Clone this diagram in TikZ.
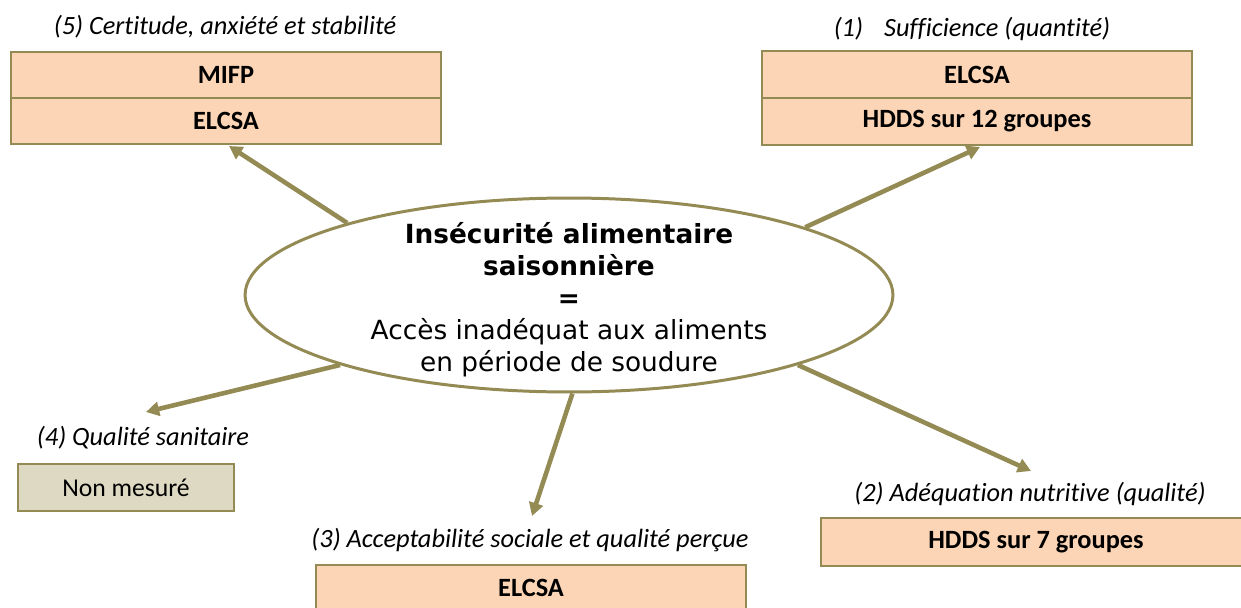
\documentclass[tikz,border=0pt]{standalone}
\usepackage{fontspec}
\setmainfont{Carlito}[Ligatures={NoCommon}]
\newfontfamily\verd{DejaVu Sans}
\usetikzlibrary{arrows.meta,shapes.geometric}
\definecolor{olivebd}{HTML}{948A54}
\definecolor{peach}{HTML}{FBD5B5}
\definecolor{khaki}{HTML}{DDD9C3}
\begin{document}
\begin{tikzpicture}[x=0.02cm,y=-0.02cm,
  cell/.style={draw=olivebd, line width=1.2pt, fill=peach, minimum width=8.6cm, minimum height=0.93cm, inner sep=0pt, font=\fontsize{15}{17}\selectfont\bfseries},
  graycell/.style={cell, fill=khaki, font=\fontsize{14.6}{17}\selectfont},
  lab/.style={font=\fontsize{15}{17}\selectfont\itshape, anchor=base, inner sep=0pt},
  arr/.style={draw=olivebd, line width=2.6pt, -{Triangle[length=7.5pt,width=8pt]}}
]
\fill[white] (0,0) rectangle (1241,608);
\useasboundingbox (0,0) rectangle (1241,608);
\begin{scope}
\clip (0,0) rectangle (1241,608);
% box 5
\node[cell] (b5a) at (226,75) {MIFP};
\node[cell] (b5b) at (226,121) {ELCSA};
% box 1
\node[cell] (b1a) at (977,74.5) {ELCSA};
\node[cell] (b1b) at (977,121.5) {HDDS sur 12 groupes};
% box 4
\node[graycell, minimum width=4.32cm, minimum height=0.94cm] (b4) at (126,487.5) {Non mesuré};
% box 3
\node[cell] (b3) at (531,588) {ELCSA};
% box 2
\node[cell, minimum height=0.96cm] (b2) at (1036,542) {HDDS sur 7 groupes};
\end{scope}
% labels
\node[lab] (l5) at (225,35) {(5) Certitude, anxiété et stabilité};
\node[lab] (l1) at (972,37) {(1)\hspace{0.8em}Sufficience (quantité)};
\node[lab] (l4) at (143,445) {(4) Qualité sanitaire};
\node[lab] (l3) at (530,547) {(3) Acceptabilité sociale et qualité perçue};
\node[lab] (l2) at (1030,501) {(2) Adéquation nutritive (qualité)};
% ellipse
\node[ellipse, draw=olivebd, line width=1.7pt, minimum width=12.96cm, minimum height=3.88cm, inner sep=0pt] (ell) at (569,295) {};
\node[align=center, inner sep=0pt, font=\verd\fontsize{15}{18.2}\selectfont] (txt) at (569,300)
  {\textbf{Insécurité alimentaire}\\\textbf{saisonnière}\\\textbf{=}\\Accès inadéquat aux aliments\\en période de soudure};
% arrow tips
\coordinate (t5) at (229,146);
\coordinate (t1) at (980,147);
\coordinate (t4) at (146,412);
\coordinate (t3) at (532,516);
\coordinate (t2) at (1031,471);
\draw[arr] (ell.162.8) -- (t5);
\draw[arr] (ell.16.3) -- (t1);
\draw[arr] (ell.197.4) -- (t4);
\draw[arr] (ell.272.3) -- (t3);
\draw[arr] (ell.343.3) -- (t2);
\end{tikzpicture}
\end{document}
